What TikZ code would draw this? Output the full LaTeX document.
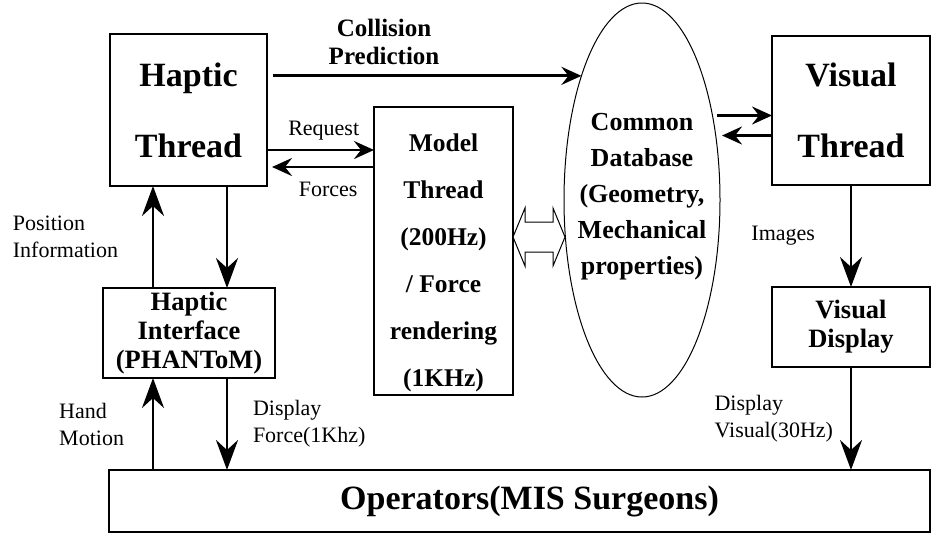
\documentclass[tikz,border=0pt]{standalone}
\usepackage{fontspec}
\setmainfont{Liberation Serif}
\usetikzlibrary{arrows.meta,shapes.geometric}
\begin{document}
\begin{tikzpicture}
[x=1pt,y=-1pt,%
  every node/.style={inner sep=0pt,outer sep=0pt},%
  thread/.style={draw,line width=1.3pt,align=center,font=\bfseries\fontsize{34}{71}\selectfont},%
  unit/.style={draw,line width=1.3pt,align=center,font=\bfseries\fontsize{26.5}{29}\selectfont},%
  lbl/.style={align=left,font=\fontsize{22}{27}\selectfont},%
  flow/.style={line width=2.8pt,-{Stealth[length=20pt,width=18pt,inset=7pt]}},%
  vflow/.style={line width=2.8pt,-{Stealth[length=30pt,width=22pt,inset=10pt]}}]
\useasboundingbox (0,0) rectangle (931,539);
\node[thread,minimum width=157pt,minimum height=152pt] (haptic) at (188.5,110) {Haptic\\Thread};
\node[thread,minimum width=158pt,minimum height=149pt] (visual) at (851,110.5) {Visual\\Thread};
\node[draw,line width=2.2pt,minimum width=139pt,minimum height=288pt] (model) at (443.5,251) {};
\node[align=center,font=\bfseries\fontsize{25.5}{47}\selectfont] (modeltext) at ([yshift=-12pt]model)
  {Model\\Thread\\(200Hz)\\/ Force\\rendering\\(1KHz)};
\node[draw,ellipse,line width=1pt,minimum width=156pt,minimum height=394pt] (db) at (642,200) {};
\node[align=center,font=\bfseries\fontsize{26}{36}\selectfont] (dbtext) at ([yshift=3pt]db)
  {Common\\Database\\(Geometry,\\Mechanical\\properties)};
\node[unit,minimum width=172pt,minimum height=90pt] (hif) at (189,333) {Haptic\\Interface\\(PHANToM)};
\node[unit,minimum width=158pt,minimum height=80pt] (vdisp) at (851,327) {Visual\\Display};
\node[draw,line width=1.3pt,minimum width=821pt,minimum height=62pt,
  font=\bfseries\fontsize{34}{40}\selectfont] (ops) at (519.5,501) {\hspace*{20pt}Operators(MIS Surgeons)};
\coordinate (lk) at ([yshift=14pt]model.east);
\draw[line width=1pt,fill=white,shift={(lk)}] (0,0) -- (12,-29) -- (12,-15) -- (40,-15) -- (40,-29)
  -- (52,0) -- (40,29) -- (40,15) -- (12,15) -- (12,29) -- cycle;
\draw[flow] ([xshift=6pt]haptic.east |- db.116) -- (db.116)
  node[pos=0.36,above=11pt,align=center,font=\bfseries\fontsize{25}{28}\selectfont] {Collision\\Prediction};
\coordinate (req) at ([yshift=-40pt]haptic.east);
\coordinate (frc) at ([yshift=-57pt]haptic.east);
\draw[flow] (req) -- (req -| model.west) node[pos=0.53,above=10pt,lbl] {Request};
\draw[flow] (frc -| model.west) -- ([xshift=5pt]frc) node[pos=0.45,below=15pt,lbl] {Forces};
\coordinate (vin) at ([yshift=-5pt]visual.west);
\coordinate (vout) at ([yshift=-25pt]visual.west);
\draw[flow] ([xshift=-3pt]vin -| db.east) -- (vin);
\draw[flow] (vout) -- ([xshift=2pt]vout -| db.east);
\draw[vflow] (visual.south) -- (vdisp.north) node[midway,left=36pt,lbl] {Images};
\draw[vflow] (vdisp.south) -- (vdisp.south |- ops.north) node[midway,left=18pt,lbl] {Display\\Visual(30Hz)};
\coordinate (hup) at ([xshift=-36pt]hif.north);
\coordinate (hdn) at ([xshift=38pt]hif.north);
\draw[vflow] (hup) -- (hup |- haptic.south) node[midway,left=35pt,lbl] {Position\\Information};
\draw[vflow] (hdn |- haptic.south) -- (hdn);
\coordinate (hmo) at ([xshift=-36pt]hif.south);
\coordinate (hfo) at ([xshift=38pt]hif.south);
\draw[vflow] (hmo |- ops.north) -- (hmo) node[midway,left=29pt,lbl] {Hand\\Motion};
\draw[vflow] (hfo) -- (hfo |- ops.north) node[midway,right=26pt,lbl] {Display\\Force(1Khz)};
\end{tikzpicture}
\end{document}
